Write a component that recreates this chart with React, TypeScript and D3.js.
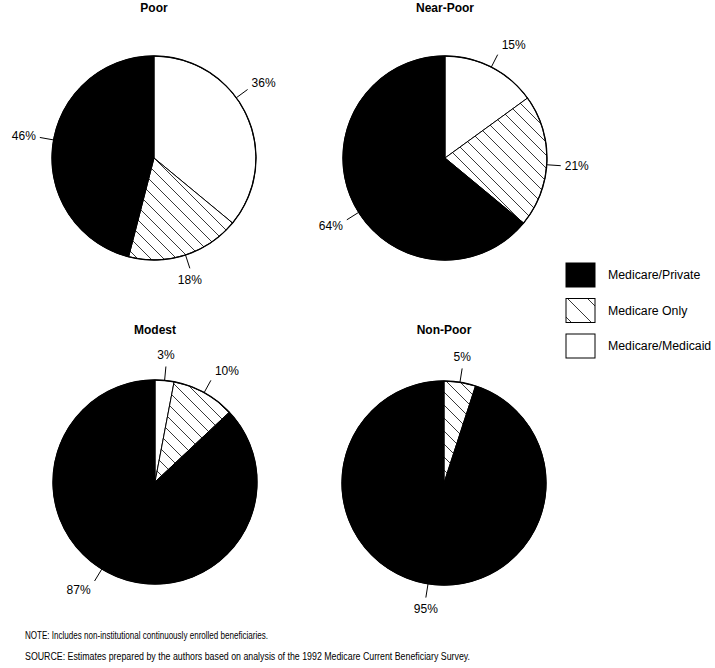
import React from "react";
import * as d3 from "d3";

// ---- Data ----
const groups = ["Poor", "Near-Poor", "Modest", "Non-Poor"];
const categories = ["Medicare/Medicaid", "Medicare Only", "Medicare/Private"];
const medicaidShare = [36, 15, 3, 0];
const medicareOnlyShare = [18, 21, 10, 5];
const privateShare = [46, 64, 87, 95];
const legendOrder = ["Medicare/Private", "Medicare Only", "Medicare/Medicaid"];
const noteText = "NOTE: Includes non-institutional continuously enrolled beneficiaries.";
const sourceText =
  "SOURCE: Estimates prepared by the authors based on analysis of the 1992 Medicare Current Beneficiary Survey.";

// ---- Layout (not data) ----
const W = 715;
const H = 668;
const R = 102;
const centers: [number, number][] = [
  [154, 158],
  [445, 158],
  [155, 482],
  [444, 483],
];
const titleY = [11.5, 11.5, 333.5, 333.5];
// label angle nudges in degrees, per group per category
const labelNudge = [
  [-11, 0, 3],
  [0, 2, -7],
  [0, 0, 8],
  [0, 0, 0],
];
const FONT = "'Liberation Sans', Arial, Helvetica, sans-serif";

const fills: Record<string, string> = {
  "Medicare/Medicaid": "#ffffff",
  "Medicare Only": "url(#hatch)",
  "Medicare/Private": "#000000",
};
const legendFills: Record<string, string> = {
  "Medicare/Medicaid": "#ffffff",
  "Medicare Only": "url(#hatchLegend)",
  "Medicare/Private": "#000000",
};

type Slice = { cat: string; value: number };

export default function App() {
  const pie = d3
    .pie<Slice>()
    .sort(null)
    .value((d) => d.value)
    .startAngle(0)
    .endAngle(2 * Math.PI);
  const arc = d3.arc<d3.PieArcDatum<Slice>>().innerRadius(0).outerRadius(R);

  const legendY = d3.scalePoint<string>().domain(legendOrder).range([263, 334]);

  return (
    <svg
      width={W}
      height={H}
      viewBox={`0 0 ${W} ${H}`}
      style={{ position: "absolute", left: 0, top: 0, background: "#fff" }}
      fontFamily={FONT}
    >
      <defs>
        <pattern id="hatch" patternUnits="userSpaceOnUse" width={13} height={13}>
          <rect width={13} height={13} fill="#fff" />
          <path d="M0,0 L13,13 M-4,9 L4,17 M9,-4 L17,4" stroke="#222" strokeWidth={0.9} />
        </pattern>
        <pattern id="hatchLegend" patternUnits="userSpaceOnUse" width={20} height={20} x={566} y={297}>
          <rect width={20} height={20} fill="#fff" />
          <path d="M0,0 L20,20 M-6,14 L6,26 M14,-6 L26,6" stroke="#222" strokeWidth={0.9} />
        </pattern>
      </defs>

      {groups.map((g, gi) => {
        const data: Slice[] = [
          { cat: categories[0], value: medicaidShare[gi] },
          { cat: categories[1], value: medicareOnlyShare[gi] },
          { cat: categories[2], value: privateShare[gi] },
        ];
        const arcs = pie(data);
        const [cx, cy] = centers[gi];
        return (
          <g key={g}>
            <text
              x={cx}
              y={titleY[gi]}
              textAnchor="middle"
              fontWeight="bold"
              fontSize={12}
              fill="#000"
            >
              {g}
            </text>
            <g transform={`translate(${cx},${cy})`}>
              {arcs
                .filter((a) => a.value > 0)
                .map((a) => (
                  <path
                    key={a.data.cat}
                    d={arc(a) || ""}
                    fill={fills[a.data.cat]}
                    stroke="#000"
                    strokeWidth={1}
                    strokeLinejoin="round"
                  />
                ))}
              <circle r={R} fill="none" stroke="#000" strokeWidth={1.3} />
              {arcs
                .filter((a) => a.value > 0)
                .map((a, i) => {
                  const ci = categories.indexOf(a.data.cat);
                  const mid = (a.startAngle + a.endAngle) / 2 + (labelNudge[gi][ci] * Math.PI) / 180;
                  const s = Math.sin(mid);
                  const c = Math.cos(mid);
                  const r1 = R;
                  const r2 = R + 14;
                  const x1 = s * r1;
                  const y1 = -c * r1;
                  const x2 = s * r2;
                  const y2 = -c * r2;
                  let anchor = "middle";
                  let tx = x2;
                  let ty = y2;
                  if (s > 0.4) {
                    anchor = "start";
                    tx = x2 + 4;
                    ty = y2 - c * 11;
                  } else if (s < -0.4) {
                    anchor = "end";
                    tx = x2 - 4;
                    ty = y2 - c * 11;
                  } else {
                    ty = y2 - c * 12;
                  }
                  return (
                    <g key={"lab" + i}>
                      <line x1={x1} y1={y1} x2={x2} y2={y2} stroke="#000" strokeWidth={1} />
                      <text
                        x={tx}
                        y={ty}
                        textAnchor={anchor}
                        dominantBaseline="central"
                        fontSize={12}
                        fill="#000"
                      >
                        {a.value}%
                      </text>
                    </g>
                  );
                })}
            </g>
          </g>
        );
      })}

      {/* Legend */}
      {legendOrder.map((cat) => {
        const y = legendY(cat) as number;
        return (
          <g key={cat}>
            <rect
              x={566}
              y={y}
              width={29}
              height={24}
              fill={legendFills[cat]}
              stroke="#000"
              strokeWidth={1}
            />
            <text x={608} y={y + 12} dominantBaseline="central" fontSize={12.3} fill="#000">
              {cat}
            </text>
          </g>
        );
      })}

      {/* Notes */}
      <text x={25} y={638.5} fontSize={10} fill="#000" textLength={243} lengthAdjust="spacingAndGlyphs">
        {noteText}
      </text>
      <text x={25} y={659.5} fontSize={10} fill="#000" textLength={445} lengthAdjust="spacingAndGlyphs">
        {sourceText}
      </text>
    </svg>
  );
}
